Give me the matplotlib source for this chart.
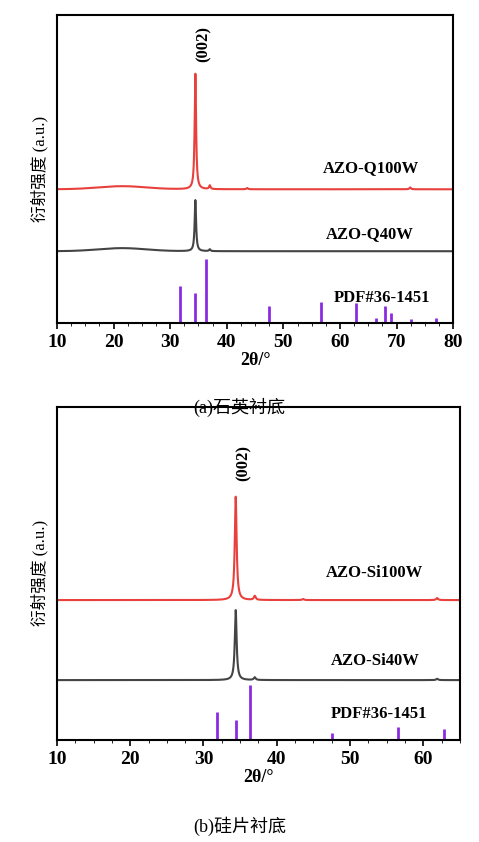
import numpy as np
import matplotlib.pyplot as plt

plt.rcParams['font.family'] = ['Liberation Serif', 'Noto Sans CJK SC']

# PDF#36-1451 reference sticks
pdf_pos = [31.8, 34.4, 36.3, 47.5, 56.6, 62.9, 66.4, 67.9, 69.1, 72.6, 77.0]
pdf_h_a = [0.12, 0.097, 0.21, 0.055, 0.07, 0.065, 0.016, 0.055, 0.032, 0.013, 0.016]
pdf_h_b = [0.084, 0.06, 0.165, 0.022, 0.04, 0.034, 0.0, 0.0, 0.0, 0.0, 0.0]

# (a) quartz substrate: baseline, hump height, peaks (pos, height)
a_red_base, a_red_hump = 0.435, 0.01
a_red_peaks = [(34.45, 0.375), (37.0, 0.012), (43.6, 0.004), (72.4, 0.006)]
a_gray_base, a_gray_hump = 0.234, 0.01
a_gray_peaks = [(34.45, 0.166), (37.0, 0.006)]

# (b) Si substrate
b_red_base = 0.42
b_red_peaks = [(34.4, 0.31), (37.0, 0.012), (43.6, 0.003), (61.9, 0.006)]
b_gray_base = 0.18
b_gray_peaks = [(34.4, 0.21), (37.0, 0.008), (61.9, 0.004)]


def curve(x, base, peaks, hump=0.0):
    y = np.full_like(x, base) + hump * np.exp(-((x - 21.5) / 6) ** 2)
    for p, h in peaks:
        y += h / (1 + ((x - p) / 0.15) ** 2)
    return y


def style(ax, xmax, ticks):
    ax.set_xlim(10, xmax)
    ax.set_ylim(0, 1)
    ax.set_yticks([])
    ax.set_xticks(ticks)
    ax.set_xticks(np.arange(10, xmax + 0.1, 2.5), minor=True)
    ax.tick_params(axis='x', direction='out', length=4, width=1.2, labelsize=14)
    ax.tick_params(axis='x', which='minor', length=2)
    for lab in ax.get_xticklabels():
        lab.set_fontweight('bold')
    for s in ax.spines.values():
        s.set_linewidth(1.5)
    ax.set_xlabel('2θ/°', fontsize=13, fontweight='bold', labelpad=1)
    ax.set_ylabel('衍射强度 (a.u.)', fontsize=12, labelpad=6)


fig = plt.figure(figsize=(4.79, 8.42), dpi=100)

ax1 = fig.add_axes([0.119, 0.616, 0.827, 0.366])
x = np.linspace(10, 80, 4000)
ax1.plot(x, curve(x, a_red_base, a_red_peaks, a_red_hump), color='#e8403c', lw=1.5)
ax1.plot(x, curve(x, a_gray_base, a_gray_peaks, a_gray_hump), color='#444444', lw=1.5)
ax1.vlines(pdf_pos, 0, pdf_h_a, color='#8a2be2', lw=2)
ax1.text(74.0, 0.49, 'AZO-Q100W', ha='right', fontsize=12, fontweight='bold')
ax1.text(73.0, 0.275, 'AZO-Q40W', ha='right', fontsize=12, fontweight='bold')
ax1.text(76.0, 0.07, 'PDF#36-1451', ha='right', fontsize=12, fontweight='bold')
ax1.text(36.0, 0.86, '(002)', rotation=90, ha='center', fontsize=12, fontweight='bold')
style(ax1, 80, range(10, 81, 10))
fig.text(0.5, 0.51, '(a)石英衬底', ha='center', fontsize=13)

ax2 = fig.add_axes([0.119, 0.121, 0.841, 0.396])
x = np.linspace(10, 65, 4000)
ax2.plot(x, curve(x, b_red_base, b_red_peaks), color='#e8403c', lw=1.5)
ax2.plot(x, curve(x, b_gray_base, b_gray_peaks), color='#444444', lw=1.5)
pb = [(p, h) for p, h in zip(pdf_pos, pdf_h_b) if h > 0]
ax2.vlines([p for p, h in pb], 0, [h for p, h in pb], color='#8a2be2', lw=2)
ax2.text(60.0, 0.49, 'AZO-Si100W', ha='right', fontsize=12, fontweight='bold')
ax2.text(59.5, 0.225, 'AZO-Si40W', ha='right', fontsize=12, fontweight='bold')
ax2.text(60.5, 0.065, 'PDF#36-1451', ha='right', fontsize=12, fontweight='bold')
ax2.text(35.5, 0.79, '(002)', rotation=90, ha='center', fontsize=12, fontweight='bold')
style(ax2, 65, range(10, 61, 10))
fig.text(0.5, 0.012, '(b)硅片衬底', ha='center', fontsize=13)

fig.savefig('out.png', dpi=100, facecolor='white')
